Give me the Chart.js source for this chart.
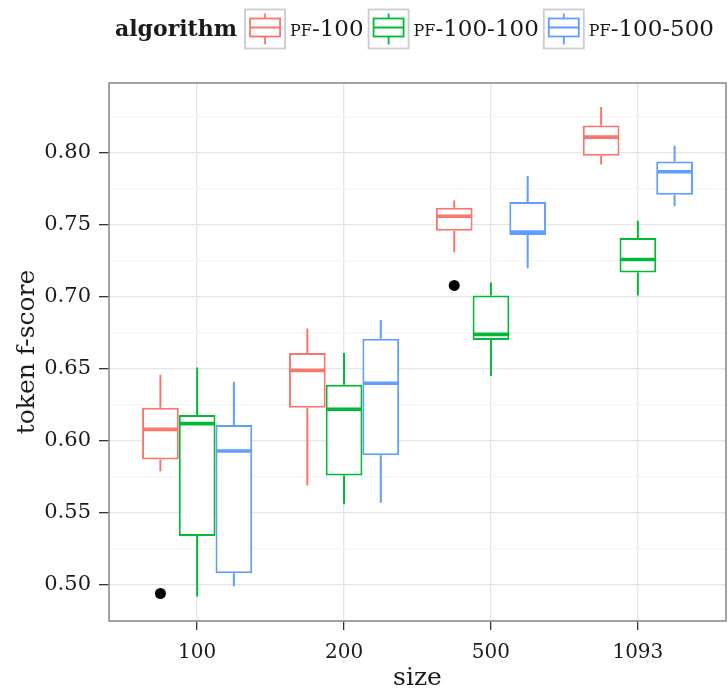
<!DOCTYPE html>
<html>
<head>
<meta charset="utf-8">
<script src="https://cdn.jsdelivr.net/npm/chart.js@4"></script>
<style>
body { margin: 0; background: #fff; }
</style>
</head>
<body>
<canvas id="chart" width="728" height="691"></canvas>
<script>
var sizes = ['100', '200', '500', '1093'];
var algorithms = ['pf-100', 'pf-100-100', 'pf-100-500'];
var colors = ['#F8766D', '#00BA38', '#619CFF'];

// box summaries, one row per algorithm, one value per size
var lowerWhisker = [
    [0.579, 0.569, 0.731, 0.792],
    [0.492, 0.556, 0.645, 0.701],
    [0.499, 0.557, 0.720, 0.763]
];
var lowerQuartile = [
    [0.587, 0.623, 0.746, 0.798],
    [0.534, 0.576, 0.670, 0.717],
    [0.508, 0.590, 0.743, 0.771]
];
var medians = [
    [0.608, 0.649, 0.756, 0.811],
    [0.612, 0.622, 0.674, 0.726],
    [0.593, 0.640, 0.745, 0.787]
];
var upperQuartile = [
    [0.623, 0.661, 0.762, 0.819],
    [0.618, 0.639, 0.701, 0.741],
    [0.611, 0.671, 0.766, 0.794]
];
var upperWhisker = [
    [0.646, 0.678, 0.767, 0.832],
    [0.651, 0.661, 0.710, 0.753],
    [0.641, 0.684, 0.784, 0.805]
];
var outliers = [
    [[0.494], [], [0.708], []],
    [[], [], [], []],
    [[], [], [], []]
];

var yMajor = [0.50, 0.55, 0.60, 0.65, 0.70, 0.75, 0.80];
var yMinor = [0.475, 0.525, 0.575, 0.625, 0.675, 0.725, 0.775, 0.825];

var serif = '"DejaVu Serif", serif';
var ink = '#1a1a1a';

function isMajor(v) {
    return yMajor.some(function(m){ return Math.abs(m - v) < 1e-9; });
}

// whiskers, medians and outliers on top of the floating bars
var boxParts = {
    id: 'boxParts',
    afterDatasetsDraw: function(chart) {
        var ctx = chart.ctx;
        var y = chart.scales.y;
        var area = chart.chartArea;
        ctx.save();
        for (let d = 0; d < algorithms.length; d++) {
            var meta = chart.getDatasetMeta(d);
            for (let i = 0; i < meta.data.length; i++) {
                var bar = meta.data[i];
                var left = bar.x - bar.width / 2;
                var right = bar.x + bar.width / 2;
                ctx.strokeStyle = colors[d];
                ctx.lineWidth = 2;
                ctx.beginPath();
                ctx.moveTo(bar.x, y.getPixelForValue(upperWhisker[d][i]));
                ctx.lineTo(bar.x, y.getPixelForValue(upperQuartile[d][i]));
                ctx.moveTo(bar.x, y.getPixelForValue(lowerQuartile[d][i]));
                ctx.lineTo(bar.x, y.getPixelForValue(lowerWhisker[d][i]));
                ctx.stroke();

                ctx.lineWidth = 3.6;
                var ym = y.getPixelForValue(medians[d][i]);
                ctx.beginPath();
                ctx.moveTo(left + 1, ym);
                ctx.lineTo(right - 1, ym);
                ctx.stroke();

                ctx.fillStyle = '#000';
                outliers[d][i].forEach(function(v){
                    ctx.beginPath();
                    ctx.arc(bar.x, y.getPixelForValue(v), 5.5, 0, Math.PI * 2);
                    ctx.fill();
                });
            }
        }
        // panel border
        ctx.strokeStyle = '#8c8c8c';
        ctx.lineWidth = 1.6;
        ctx.strokeRect(area.left, area.top, area.right - area.left, area.bottom - area.top);
        ctx.restore();
    }
};

// ggplot style legend: bold title then boxplot keys in a row
var boxLegend = {
    id: 'boxLegend',
    afterDraw: function(chart) {
        var ctx = chart.ctx;
        var cy = 29;
        var keyW = 40, keyH = 39;
        var titleFont = 'bold 22px ' + serif;
        var labelFont = 'small-caps 23px ' + serif;
        ctx.save();
        ctx.textBaseline = 'middle';
        ctx.font = titleFont;
        var titleW = ctx.measureText('algorithm').width;
        ctx.font = labelFont;
        var labelW = algorithms.map(function(a){ return ctx.measureText(a).width; });
        var total = titleW + 8;
        labelW.forEach(function(w){ total += keyW + 5 + w + 5; });
        var x = 417 - total / 2;

        ctx.fillStyle = ink;
        ctx.font = titleFont;
        ctx.fillText('algorithm', x, cy + 1);
        x += titleW + 8;

        for (let d = 0; d < algorithms.length; d++) {
            var top = cy - keyH / 2;
            ctx.fillStyle = '#fff';
            ctx.fillRect(x, top, keyW, keyH);
            ctx.strokeStyle = '#cccccc';
            ctx.lineWidth = 1.8;
            ctx.strokeRect(x, top, keyW, keyH);

            var cx = x + keyW / 2;
            ctx.strokeStyle = colors[d];
            ctx.lineWidth = 1.8;
            ctx.beginPath();
            ctx.moveTo(cx, top + 4); ctx.lineTo(cx, top + 9);
            ctx.moveTo(cx, top + 27); ctx.lineTo(cx, top + 35);
            ctx.moveTo(x + 5, top + 18); ctx.lineTo(x + keyW - 5, top + 18);
            ctx.stroke();
            ctx.strokeRect(x + 5, top + 9, keyW - 10, 18);
            x += keyW + 5;

            ctx.fillStyle = ink;
            ctx.font = labelFont;
            ctx.fillText(algorithms[d], x, cy + 1);
            x += labelW[d] + 5;
        }
        ctx.restore();
    }
};

var datasets = algorithms.map(function(name, d){
    return {
        label: name,
        data: sizes.map(function(s, i){
            return { x: i + 1, y: [lowerQuartile[d][i], upperQuartile[d][i]] };
        }),
        backgroundColor: '#ffffff',
        borderColor: colors[d],
        borderWidth: 2,
        borderSkipped: false,
        categoryPercentage: 0.75,
        barPercentage: 1.0
    };
});

Chart.defaults.font.family = serif;
Chart.defaults.color = ink;

var chart = new Chart(document.getElementById('chart'), {
    type: 'bar',
    data: { datasets: datasets },
    options: {
        responsive: false,
        animation: false,
        layout: { padding: { top: 83, right: 2, left: 0, bottom: 0 } },
        plugins: {
            legend: { display: false },
            tooltip: { enabled: false }
        },
        scales: {
            x: {
                type: 'linear',
                min: 0.4,
                max: 4.6,
                offset: false,
                afterBuildTicks: function(scale) {
                    scale.ticks = sizes.map(function(s, i){ return { value: i + 1 }; });
                },
                afterFit: function(scale) { scale.height = 70; },
                ticks: {
                    callback: function(v) { return sizes[v - 1]; },
                    font: { size: 20 },
                    color: ink,
                    padding: 11,
                    maxRotation: 0,
                    autoSkip: false
                },
                grid: {
                    color: '#e5e5e5',
                    lineWidth: 1.3,
                    offset: false,
                    tickColor: '#333',
                    tickLength: 9,
                    tickWidth: 1.3
                },
                border: { display: false },
                title: {
                    display: true,
                    text: 'size',
                    font: { size: 25, lineHeight: 1 },
                    color: ink,
                    padding: 0
                }
            },
            y: {
                min: 0.4749,
                max: 0.8486,
                beginAtZero: false,
                afterBuildTicks: function(scale) {
                    scale.ticks = yMajor.concat(yMinor).sort().map(function(v){ return { value: v }; });
                },
                afterFit: function(scale) { scale.width = 109; },
                ticks: {
                    callback: function(v) { return isMajor(v) ? v.toFixed(2) : ''; },
                    font: { size: 21 },
                    color: ink,
                    padding: 8,
                    autoSkip: false
                },
                grid: {
                    color: function(c) { return isMajor(c.tick.value) ? '#e5e5e5' : '#f6f6f6'; },
                    lineWidth: 1.3,
                    tickColor: function(c) { return isMajor(c.tick.value) ? '#333' : 'rgba(0,0,0,0)'; },
                    tickLength: 10,
                    tickWidth: 1.3
                },
                border: { display: false },
                title: {
                    display: true,
                    text: 'token f-score',
                    font: { size: 25, lineHeight: 1 },
                    color: ink,
                    padding: { top: 15, bottom: 0 }
                }
            }
        }
    },
    plugins: [boxParts, boxLegend]
});
</script>
</body>
</html>
